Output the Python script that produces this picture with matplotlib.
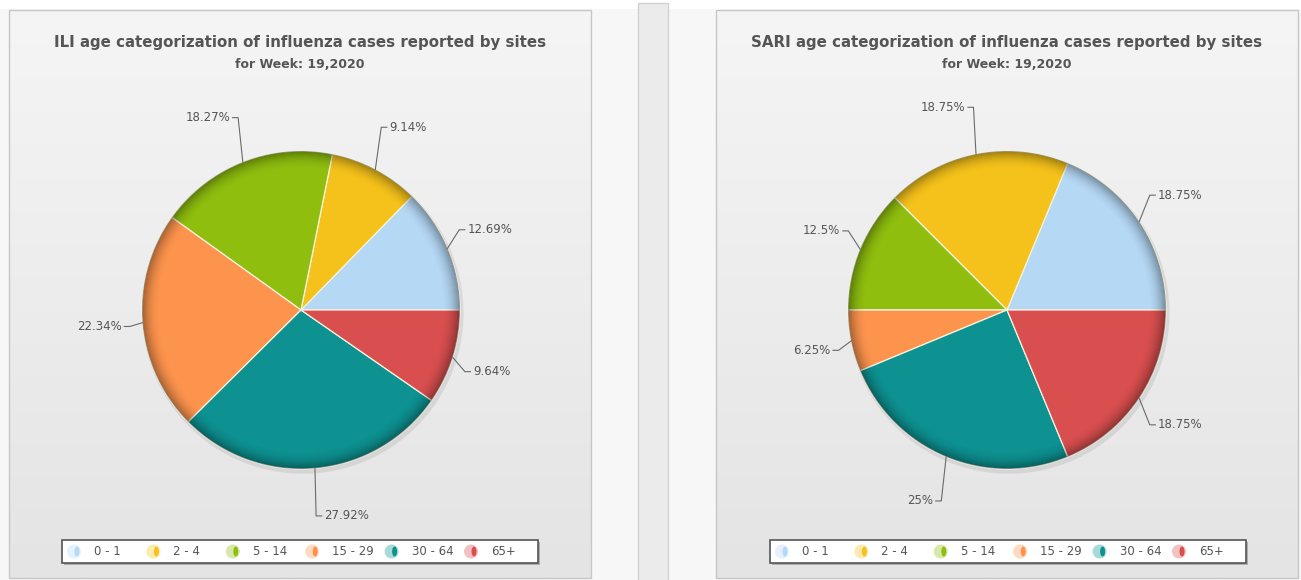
import numpy as np
import matplotlib.pyplot as plt
from matplotlib.patches import Rectangle, Circle, Ellipse, Wedge
from matplotlib.colors import LinearSegmentedColormap, to_rgb

W, H = 1301, 580

# data
age_groups = ['0 - 1', '2 - 4', '5 - 14', '15 - 29', '30 - 64', '65+']
colors = ['#b5d8f5', '#f5c21b', '#8fbe0f', '#fd944e', '#0e9191', '#d94f4f']
ili_pct = [12.69, 9.14, 18.27, 22.34, 27.92, 9.64]
sari_pct = [18.75, 18.75, 12.5, 6.25, 25, 18.75]
titles = ['ILI age categorization of influenza cases reported by sites',
          'SARI age categorization of influenza cases reported by sites']
subtitle = 'for Week: 19,2020'

# panel geometry in pixels (x from left, y from top)
panels = [(9, 591), (716, 1298)]
pie_centers = [(301, 310), (1007, 310)]
R = 159
legend_left = [62, 770]

fig = plt.figure(figsize=(W / 100, H / 100), dpi=100)
fig.patch.set_facecolor('#f7f7f7')

bg = fig.add_axes([0, 0, 1, 1])
bg.axis('off')

bg.add_patch(Rectangle((0, 0), W, 9, fc='white', ec='none'))
bg.add_patch(Rectangle((638, 3), 30, H, fc='#ebebeb', ec='#d2d2d2', lw=1))

grad_cmap = LinearSegmentedColormap.from_list('panel', ['#f5f5f5', '#e4e4e4'])
grad = np.linspace(0, 1, 256)[:, None]

for i, (x0, x1) in enumerate(panels):
    bg.imshow(grad, extent=(x0, x1, 578, 10), cmap=grad_cmap, aspect='auto', zorder=1)
    bg.add_patch(Rectangle((x0, 10), x1 - x0, 568, fill=False, ec='#c6c6c6', lw=1, zorder=2))
    cx = (x0 + x1) / 2
    bg.text(cx, 42, titles[i], ha='center', va='center', fontsize=10.8,
            fontweight='bold', color='#555555', zorder=3)
    bg.text(cx, 65, subtitle, ha='center', va='center', fontsize=9,
            fontweight='bold', color='#555555', zorder=3)

    # legend box
    lx = legend_left[i]
    bg.add_patch(Rectangle((lx + 2, 542), 476, 23, fc='#8a8a8a', ec='none', alpha=0.6, zorder=3))
    bg.add_patch(Rectangle((lx, 540), 476, 23, fc='white', ec='#555555', lw=1.2, zorder=4))
    for k, (name, col) in enumerate(zip(age_groups, colors)):
        ix = lx + 12 + k * 79.4
        light = tuple(0.35 * np.array(to_rgb(col)) + 0.65)
        bg.add_patch(Circle((ix, 551.5), 7, fc=light, ec='none', zorder=5))
        bg.add_patch(Ellipse((ix + 3, 551.5), 5, 10, fc=col, ec='none', zorder=6))
        bg.text(ix + 20, 551.5, name, ha='left', va='center', fontsize=8.5,
                color='#555555', zorder=6)

bg.set_xlim(0, W)
bg.set_ylim(H, 0)


def draw_pie(center, values):
    cx, cy = center
    span = 1.6 * R
    ax = fig.add_axes([(cx - span) / W, (H - cy - span) / H, 2 * span / W, 2 * span / H])
    ax.set_facecolor('none')
    # soft drop shadow
    ax.add_patch(Circle((0.012, -0.02), 1.01, fc='#a0a0a0', ec='none', alpha=0.25, zorder=0))
    wedges, _ = ax.pie(values, colors=colors, startangle=0, counterclock=True, radius=1,
                       wedgeprops=dict(edgecolor='#f3f3e0', linewidth=0.9))
    # bevel: darken the rim
    n = 18
    dw = 0.006
    for k in range(n):
        a = 0.36 * (1 - k / n) ** 2
        ax.add_patch(Wedge((0, 0), 1 - k * dw, 0, 360, width=dw, fc='black',
                           ec='none', alpha=a, zorder=3))
    for w, v in zip(wedges, values):
        th = np.deg2rad((w.theta1 + w.theta2) / 2)
        ex, ey = np.cos(th), np.sin(th)
        side = 1 if ex >= 0 else -1
        bx, by = 1.08 * ex, 1.3 * ey
        ax.plot([ex, bx, bx + side * 0.035], [ey, by, by], color='#6a6a6a', lw=0.8, zorder=4)
        ax.text(bx + side * 0.05, by, f'{v:g}%', ha='left' if side > 0 else 'right',
                va='center', fontsize=8.5, color='#555555', zorder=4)
    ax.set_xlim(-1.6, 1.6)
    ax.set_ylim(-1.6, 1.6)
    ax.set_aspect('equal')
    ax.axis('off')


draw_pie(pie_centers[0], ili_pct)
draw_pie(pie_centers[1], sari_pct)

fig.savefig('out.png', dpi=100)
